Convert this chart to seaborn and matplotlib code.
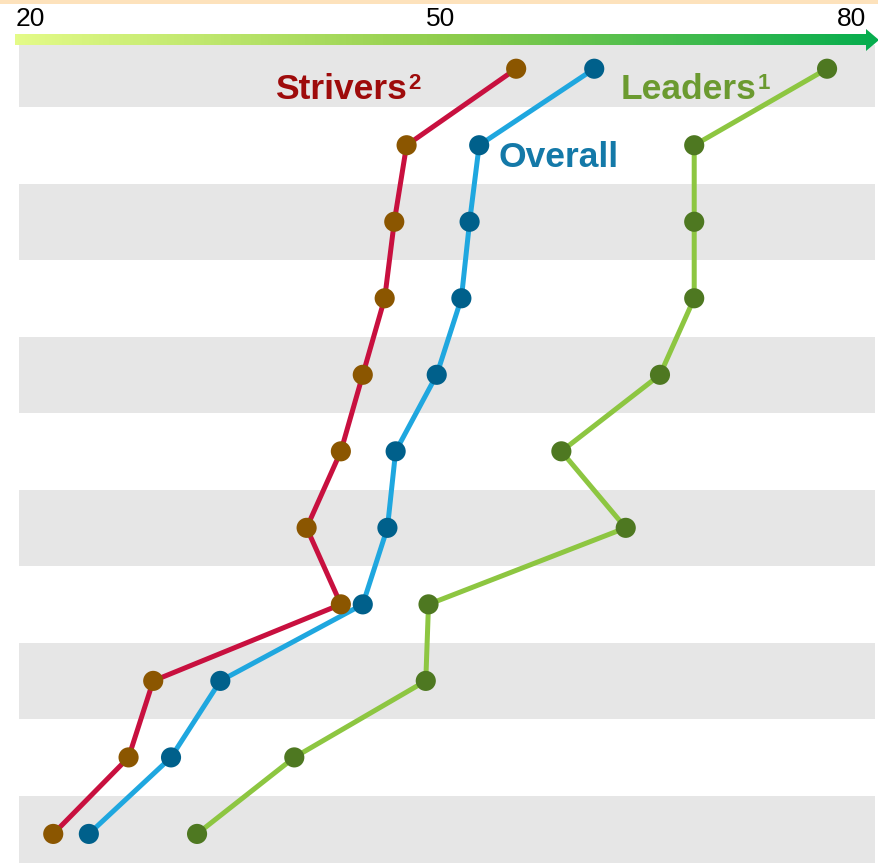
import numpy as np
import pandas as pd
import matplotlib
matplotlib.use("Agg")
import matplotlib.pyplot as plt
from matplotlib.colors import LinearSegmentedColormap
from matplotlib.patches import Polygon, Rectangle
from matplotlib.transforms import blended_transform_factory
import seaborn as sns

# values, one per row (top row first)
rows = list(range(11))
strivers = [55.5, 47.5, 46.6, 45.9, 44.3, 42.7, 40.2, 42.7, 29.0, 27.2, 21.7]
overall = [61.2, 52.8, 52.1, 51.5, 49.7, 46.7, 46.1, 44.3, 33.9, 30.3, 24.3]
leaders = [78.2, 68.5, 68.5, 68.5, 66.0, 58.8, 63.5, 49.1, 48.9, 39.3, 32.2]
groups = ["Strivers", "Overall", "Leaders"]
tick_values = [20, 50, 80]

line_colors = {"Strivers": "#c8103f", "Overall": "#1fa7df", "Leaders": "#8dc641"}
dot_colors = {"Strivers": "#8b5600", "Overall": "#00608b", "Leaders": "#4e7821"}

df = pd.concat([
    pd.DataFrame({"value": strivers, "row": rows, "group": "Strivers"}),
    pd.DataFrame({"value": overall, "row": rows, "group": "Overall"}),
    pd.DataFrame({"value": leaders, "row": rows, "group": "Leaders"}),
], ignore_index=True)

sns.set_style("white")
plt.rcParams["font.family"] = ["Liberation Sans", "DejaVu Sans"]

W, H = 879, 863
fig = plt.figure(figsize=(W / 100, H / 100), dpi=100)
ax = fig.add_axes([19 / W, 0, (875 - 19) / W, 1 - 45 / H])

# alternating row bands
for r in rows[::2]:
    ax.axhspan(r - 0.5, r + 0.5, color="#e6e6e6", lw=0, zorder=0)

sns.lineplot(data=df, x="value", y="row", hue="group", hue_order=groups,
             palette=line_colors, sort=False, estimator=None,
             linewidth=3.6, legend=False, ax=ax, zorder=2)
sns.scatterplot(data=df, x="value", y="row", hue="group", hue_order=groups,
                palette=dot_colors, s=210, linewidth=0, legend=False,
                ax=ax, zorder=3)

ax.set_xlim(19.2, 81.7)
ax.set_ylim(10.38, -0.31)
ax.axis("off")


def label(x, y, txt, sup, color):
    t = ax.text(x, y, txt, color=color, fontsize=25.5, fontweight="bold",
                va="center", ha="left")
    if sup:
        ax.annotate(sup, xy=(1, 1), xycoords=t, xytext=(0.8, 0),
                    textcoords="offset points", ha="left", va="top",
                    color=color, fontsize=16, fontweight="bold")


# series labels
label(37.9, 0.27, "Strivers", "2", "#9e0b0b")
label(63.1, 0.27, "Leaders", "1", "#6b9a30")
label(54.2, 1.16, "Overall", None, "#1479a8")

# axis tick labels above the arrow
trans = blended_transform_factory(ax.transData, fig.transFigure)
for v in tick_values:
    ax.text(v, 1 - 19 / H, str(v), transform=trans, ha="center",
            va="center", fontsize=19, color="black", clip_on=False)

# gradient arrow and top strip, drawn in pixel space
over = fig.add_axes([0, 0, 1, 1], zorder=5)
over.set_xlim(0, W)
over.set_ylim(H, 0)
over.axis("off")
over.add_patch(Rectangle((0, 0), W, 4, color="#fde2bc", lw=0))
cmap = LinearSegmentedColormap.from_list("g", ["#e4fb88", "#8fcd4c", "#05ad4f"])
grad = np.linspace(0, 1, 256)[None, :]
img = over.imshow(grad, cmap=cmap, aspect="auto", extent=[15, 879, 52, 28])
arrow = Polygon([(15, 34), (866, 34), (866, 29), (879, 40), (866, 51),
                 (866, 45), (15, 45)], closed=True, fc="none", ec="none")
over.add_patch(arrow)
img.set_clip_path(arrow)

fig.savefig("out.png", dpi=100)
